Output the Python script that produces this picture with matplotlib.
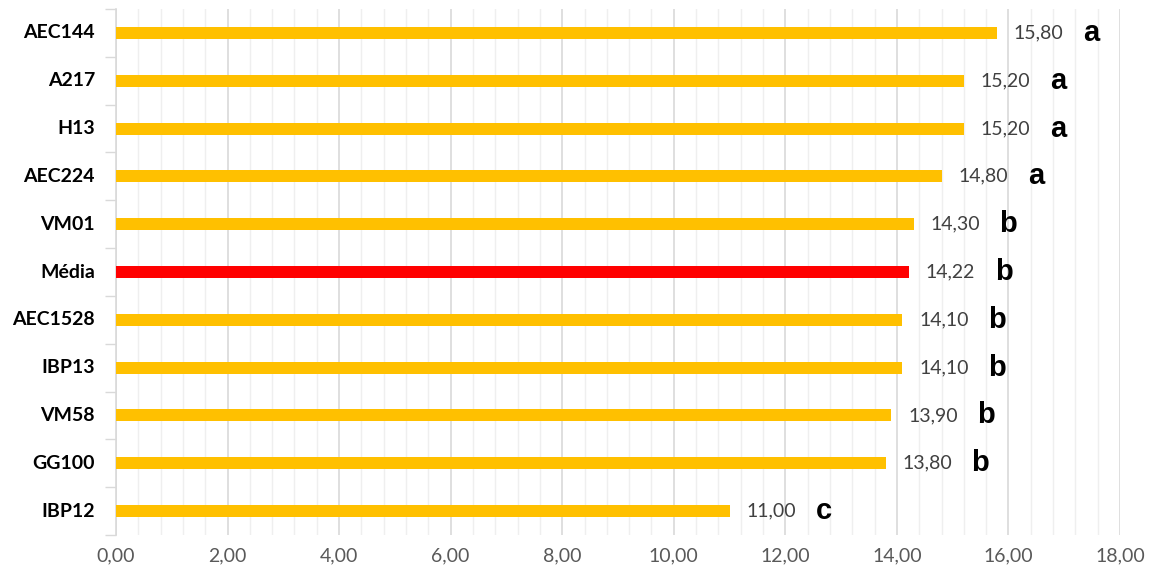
import matplotlib
matplotlib.use("Agg")
import matplotlib.pyplot as plt
from matplotlib.ticker import MultipleLocator, FixedLocator, NullFormatter
from matplotlib.transforms import blended_transform_factory
import numpy as np

# Genotypes, top to bottom
genotypes = ["AEC144", "A217", "H13", "AEC224", "VM01", "Média",
             "AEC1528", "IBP13", "VM58", "GG100", "IBP12"]
values = [15.80, 15.20, 15.20, 14.80, 14.30, 14.22,
          14.10, 14.10, 13.90, 13.80, 11.00]
groups = ["a", "a", "a", "a", "b", "b", "b", "b", "b", "b", "c"]
mean_label = "Média"

gold = "#FFC000"
red = "#FF0000"

W, H = 1157, 578
fig = plt.figure(figsize=(W / 100, H / 100), dpi=100)
ax_left, ax_right, ax_top, ax_bottom = 116, 1120, 9, 535
ax = fig.add_axes([ax_left / W, 1 - ax_bottom / H,
                   (ax_right - ax_left) / W, (ax_bottom - ax_top) / H])

n = len(genotypes)
ypos = np.arange(n)[::-1]
colors = [red if g == mean_label else gold for g in genotypes]
ax.barh(ypos, values, height=0.25, color=colors, zorder=3)

ax.set_xlim(0, 18)
ax.set_ylim(-0.5, n - 0.5)

# Vertical gridlines: major every 2, minor every 0.4
ax.xaxis.set_major_locator(MultipleLocator(2))
ax.xaxis.set_minor_locator(MultipleLocator(0.4))
ax.grid(axis="x", which="major", color="#d9d9d9", linewidth=1.2, zorder=0)
ax.grid(axis="x", which="minor", color="#efefef", linewidth=1.0, zorder=0)
ax.tick_params(axis="x", which="both", length=0, pad=9, labelsize=14,
               labelcolor="#595959")
xt = np.arange(0, 18.1, 2)
ax.set_xticks(xt)
ax.set_xticklabels([f"{v:.2f}".replace(".", ",") for v in xt], fontfamily="Lato")

# Category axis: ticks on boundaries, labels drawn at centres
ax.yaxis.set_major_locator(FixedLocator(np.arange(-0.5, n, 1.0)))
ax.yaxis.set_major_formatter(NullFormatter())
ax.tick_params(axis="y", which="major", length=8, width=1.0, color="#d9d9d9",
               direction="out")
label_tr = blended_transform_factory(ax.transAxes, ax.transData)
label_x = -21 / (ax_right - ax_left)
for y, name in zip(ypos, genotypes):
    ax.text(label_x, y, name, transform=label_tr, ha="right", va="center",
            fontsize=14, fontweight="bold", color="black", fontfamily="Lato")

for s in ["top", "right", "bottom"]:
    ax.spines[s].set_visible(False)
ax.spines["left"].set_color("#d9d9d9")
ax.spines["left"].set_linewidth(1.2)

# Value labels and significance letters
for y, v, g in zip(ypos, values, groups):
    ax.annotate(f"{v:.2f}".replace(".", ","), (v, y), xytext=(12, 0),
                textcoords="offset points", ha="left", va="center",
                fontsize=14, color="#404040", fontfamily="Lato")
    ax.annotate(g, (v, y), xytext=(68, 0), textcoords="offset points",
                ha="center", va="center", fontsize=21, fontweight="bold",
                color="black", fontfamily="Liberation Sans")

fig.savefig("out.png", dpi=100)
